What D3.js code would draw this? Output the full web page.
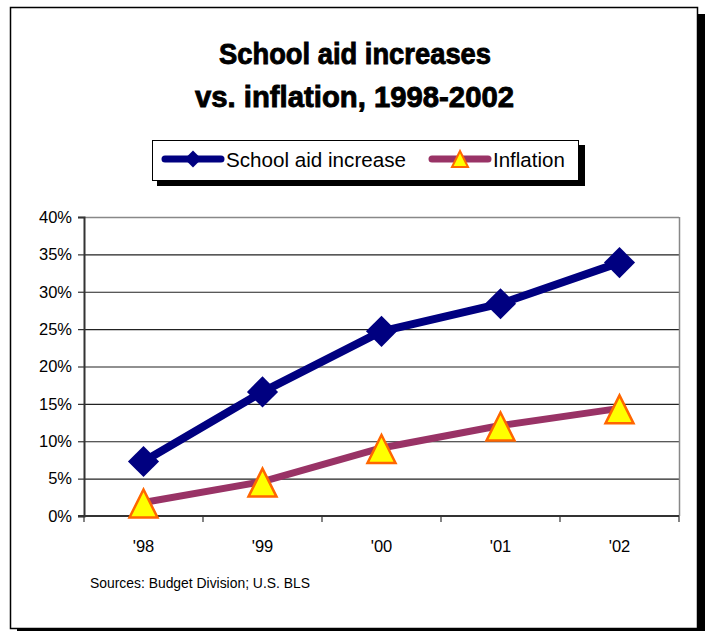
<!DOCTYPE html>
<html><head><meta charset="utf-8">
<script src="https://cdn.jsdelivr.net/npm/d3@7"></script>
<style>body{margin:0;background:#fff}svg{display:block}</style>
</head><body><svg id="c" width="707" height="631"></svg>
<script>
const categories = ["'98", "'99", "'00", "'01", "'02"];
const schoolAid = [7.3, 16.6, 24.7, 28.4, 33.9];
const inflation = [1.8, 4.6, 9.1, 12.1, 14.4];
const yTicks = [0, 5, 10, 15, 20, 25, 30, 35, 40];
const seriesNames = ["School aid increase", "Inflation"];

const svg = d3.select("#c");
// frame with shadow
svg.append("rect").attr("x", 17).attr("y", 14).attr("width", 688).attr("height", 622).attr("fill", "#000");
svg.append("rect").attr("x", 10.5).attr("y", 7.5).attr("width", 687).attr("height", 621).attr("fill", "#fff").attr("stroke", "#000").attr("stroke-width", 1.5);

// title
const tf = "'Liberation Sans',Arial,sans-serif";
svg.append("text").attr("x", 219).attr("y", 64)
  .attr("textLength", 272).attr("lengthAdjust", "spacingAndGlyphs")
  .attr("stroke", "#000").attr("stroke-width", 0.9)
  .style("font-family", tf).style("font-weight", "bold").style("font-size", "30px").text("School aid increases");
svg.append("text").attr("x", 195).attr("y", 107)
  .attr("textLength", 319).attr("lengthAdjust", "spacingAndGlyphs")
  .attr("stroke", "#000").attr("stroke-width", 0.9)
  .style("font-family", tf).style("font-weight", "bold").style("font-size", "30px").text("vs. inflation, 1998-2002");

const L = 84, R = 679, T = 217, B = 516;
const x = d3.scaleBand().domain(categories).range([L, R]);
const y = d3.scaleLinear().domain([0, 40]).range([B, T]);
const font = "'Liberation Sans',Arial,sans-serif";

// gridlines
svg.append("g").selectAll("line").data(yTicks.slice(1)).join("line")
  .attr("x1", L).attr("x2", R).attr("y1", d => y(d) + 0.5).attr("y2", d => y(d) + 0.5)
  .attr("stroke", "#222").attr("stroke-width", 1.2);
// right/top border
svg.append("line").attr("x1", R + 0.5).attr("x2", R + 0.5).attr("y1", T).attr("y2", B).attr("stroke", "#888").attr("stroke-width", 1.5);
svg.append("line").attr("x1", L).attr("x2", R).attr("y1", T + 0.5).attr("y2", T + 0.5).attr("stroke", "#888").attr("stroke-width", 1.5);

// y axis
const yAxis = d3.axisLeft(y).tickValues(yTicks).tickFormat(d => d + "%").tickSize(6).tickPadding(6);
const gy = svg.append("g").attr("transform", `translate(${L},0)`).call(yAxis);
gy.select(".domain").attr("stroke", "#333").attr("stroke-width", 2);
gy.selectAll(".tick line").attr("stroke", "#333").attr("stroke-width", 1.2);
gy.selectAll("text").style("font-family", font).style("font-size", "16.5px").attr("fill", "#000");

// x axis
const gx = svg.append("g").attr("transform", `translate(0,${B})`);
gx.append("line").attr("x1", L - 6).attr("x2", R).attr("y1", 0).attr("y2", 0).attr("stroke", "#333").attr("stroke-width", 2);
const edges = categories.map(c => x(c)).concat([R]);
gx.selectAll("line.t").data(edges).join("line").attr("class", "t")
  .attr("x1", d => d).attr("x2", d => d).attr("y1", 0).attr("y2", 6).attr("stroke", "#333").attr("stroke-width", 1.2);
gx.selectAll("text").data(categories).join("text")
  .attr("x", d => x(d) + x.bandwidth() / 2).attr("y", 36).attr("text-anchor", "middle")
  .style("font-family", font).style("font-size", "16.5px").text(d => d);

const cx = c => x(c) + x.bandwidth() / 2;
const line = d3.line().x((d, i) => cx(categories[i])).y(d => y(d));

// custom tall triangle symbol
const tallTri = (w, h) => ({ draw(ctx) {
  ctx.moveTo(0, -h / 2); ctx.lineTo(w / 2, h / 2); ctx.lineTo(-w / 2, h / 2); ctx.closePath();
}});

// inflation
svg.append("path").datum(inflation).attr("d", line).attr("fill", "none")
  .attr("stroke", "#993366").attr("stroke-width", 7).attr("stroke-linejoin", "round").attr("stroke-linecap", "round");
const tri = d3.symbol().type(tallTri(28, 28));
svg.append("g").selectAll("path").data(inflation).join("path")
  .attr("d", tri).attr("transform", (d, i) => `translate(${cx(categories[i])},${y(d) + 1})`)
  .attr("fill", "#ffff00").attr("stroke", "#ff6600").attr("stroke-width", 2.5).attr("stroke-linejoin", "miter");

// school aid
svg.append("path").datum(schoolAid).attr("d", line).attr("fill", "none")
  .attr("stroke", "#000080").attr("stroke-width", 8).attr("stroke-linejoin", "round");
svg.append("g").selectAll("rect").data(schoolAid).join("rect")
  .attr("x", -11).attr("y", -11).attr("width", 22).attr("height", 22)
  .attr("transform", (d, i) => `translate(${cx(categories[i])},${y(d)}) rotate(45)`)
  .attr("fill", "#000080");

// legend
svg.append("rect").attr("x", 157).attr("y", 145).attr("width", 428).attr("height", 41).attr("fill", "#000");
svg.append("rect").attr("x", 152.5).attr("y", 140.5).attr("width", 426).attr("height", 40).attr("fill", "#fff").attr("stroke", "#000").attr("stroke-width", 1);
const ly = 159;
svg.append("line").attr("x1", 165).attr("x2", 221).attr("y1", ly).attr("y2", ly).attr("stroke", "#000080").attr("stroke-width", 7).attr("stroke-linecap", "round");
svg.append("rect").attr("x", -6).attr("y", -6).attr("width", 12).attr("height", 12)
  .attr("transform", `translate(193,${ly}) rotate(45)`).attr("fill", "#000080");
svg.append("text").attr("x", 226).attr("y", ly + 8).attr("textLength", 180).attr("lengthAdjust", "spacingAndGlyphs")
  .style("font-family", font).style("font-size", "20.5px").text(seriesNames[0]);
svg.append("line").attr("x1", 432).attr("x2", 488).attr("y1", ly).attr("y2", ly).attr("stroke", "#993366").attr("stroke-width", 7).attr("stroke-linecap", "round");
svg.append("path").attr("d", d3.symbol().type(tallTri(16, 16))).attr("transform", `translate(460,${ly})`)
  .attr("fill", "#ffff00").attr("stroke", "#ff6600").attr("stroke-width", 2);
svg.append("text").attr("x", 493).attr("y", ly + 8).style("font-family", font).style("font-size", "20.5px").text(seriesNames[1]);

// source
svg.append("text").attr("x", 90).attr("y", 588).attr("textLength", 220).attr("lengthAdjust", "spacingAndGlyphs")
  .style("font-family", font).style("font-size", "14px").text("Sources: Budget Division; U.S. BLS");
</script></body></html>
